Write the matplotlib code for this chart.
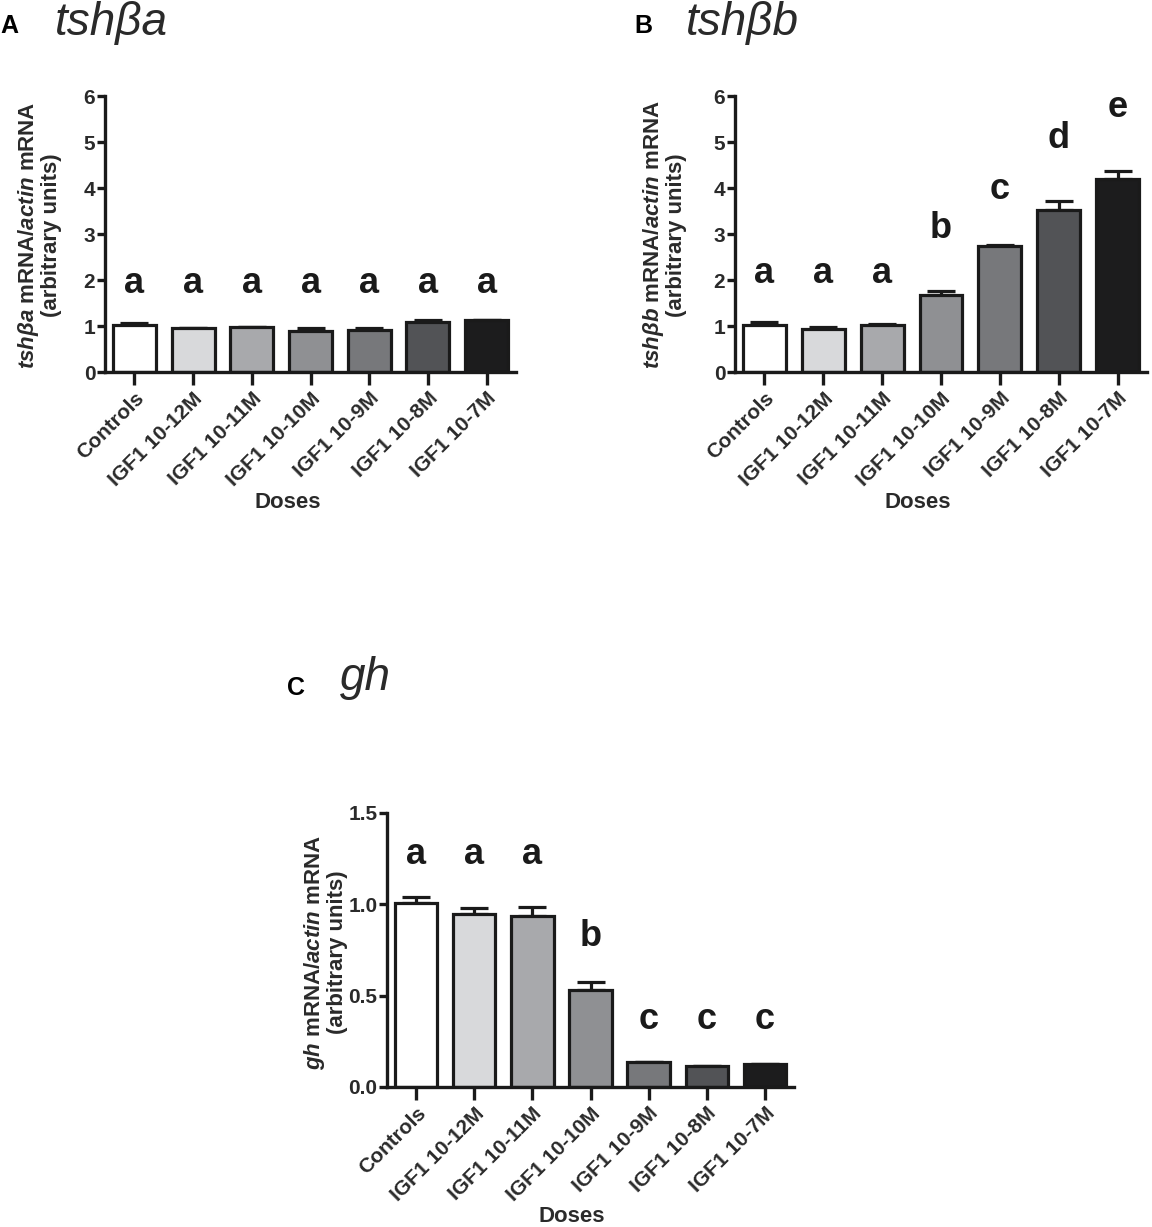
import numpy as np
import matplotlib
matplotlib.use('Agg')
from matplotlib import pyplot as plt

plt.rcParams['font.family'] = ['Liberation Sans', 'DejaVu Sans']
plt.rcParams['mathtext.fontset'] = 'custom'
plt.rcParams['mathtext.it'] = 'Liberation Sans:italic:bold'
plt.rcParams['mathtext.rm'] = 'Liberation Sans:bold'
plt.rcParams['mathtext.bf'] = 'Liberation Sans:bold'

# data
doses = ['Controls', 'IGF1 10-12M', 'IGF1 10-11M', 'IGF1 10-10M',
         'IGF1 10-9M', 'IGF1 10-8M', 'IGF1 10-7M']
bar_colors = ['#ffffff', '#d8d9db', '#a8a9ac', '#8f9093', '#77787b',
              '#525356', '#1c1c1d']

tsha_mean = [1.03, 0.95, 0.97, 0.90, 0.92, 1.09, 1.13]
tsha_sem = [0.03, 0.0, 0.01, 0.05, 0.03, 0.04, 0.0]
tsha_letters = ['a', 'a', 'a', 'a', 'a', 'a', 'a']

tshb_mean = [1.03, 0.94, 1.02, 1.68, 2.75, 3.52, 4.20]
tshb_sem = [0.05, 0.04, 0.02, 0.09, 0.02, 0.20, 0.17]
tshb_letters = ['a', 'a', 'a', 'b', 'c', 'd', 'e']

gh_mean = [1.005, 0.946, 0.935, 0.530, 0.137, 0.113, 0.128]
gh_sem = [0.037, 0.033, 0.048, 0.043, 0.0, 0.0, 0.0]
gh_letters = ['a', 'a', 'a', 'b', 'c', 'c', 'c']

W, H = 1152, 1227
fig = plt.figure(figsize=(W / 100, H / 100), dpi=100)


def px(x, y):
    # pixel position -> figure fraction
    return x / W, 1 - y / H


def panel(rect, mean, sem, letters, letter_y, ylim, yticks, yfmt):
    ax = fig.add_axes(rect)
    x = np.arange(len(mean))
    ax.bar(x, mean, width=0.73, color=bar_colors, edgecolor='#1a1a1a',
           linewidth=2.3, zorder=2)
    ax.errorbar(x, mean, yerr=[np.zeros(len(sem)), sem], fmt='none',
                ecolor='#1a1a1a', elinewidth=2.3, capsize=10, capthick=2.3,
                zorder=1)
    for xi, lab, ly in zip(x, letters, letter_y):
        ax.text(xi, ly, lab, ha='center', va='baseline', fontsize=26,
                fontweight='bold', color='#1a1a1a')
    ax.set_xlim(-0.5, len(mean) - 0.5)
    ax.set_ylim(*ylim)
    ax.set_yticks(yticks)
    ax.set_yticklabels([yfmt.format(v) for v in yticks])
    ax.set_xticks(x)
    ax.set_xticklabels(doses, rotation=45, ha='right', rotation_mode='anchor')
    for s in ['top', 'right']:
        ax.spines[s].set_visible(False)
    for s in ['left', 'bottom']:
        ax.spines[s].set_linewidth(2.4)
        ax.spines[s].set_color('#1a1a1a')
    ax.tick_params(axis='both', width=2.4, color='#1a1a1a', labelsize=15,
                   labelcolor='#2a2a2a')
    ax.tick_params(axis='y', length=6, pad=1)
    ax.tick_params(axis='x', length=9, pad=3)
    for t in ax.get_xticklabels() + ax.get_yticklabels():
        t.set_fontweight('bold')
    return ax


# panel A
l, b = px(105, 372)
panel([l, b, 411 / W, 276 / H], tsha_mean, tsha_sem, tsha_letters,
      [1.72] * 7, (0, 6), [0, 1, 2, 3, 4, 5, 6], '{:g}')
# panel B
l, b = px(735, 372)
panel([l, b, 412 / W, 276 / H], tshb_mean, tshb_sem, tshb_letters,
      [1.93, 1.93, 1.93, 2.91, 3.77, 4.86, 5.54], (0, 6),
      [0, 1, 2, 3, 4, 5, 6], '{:g}')
# panel C
l, b = px(387, 1087)
panel([l, b, 407 / W, 274 / H], gh_mean, gh_sem, gh_letters,
      [1.22, 1.22, 1.22, 0.77, 0.32, 0.32, 0.32], (0, 1.5),
      [0.0, 0.5, 1.0, 1.5], '{:.1f}')

# panel letters and gene titles
for (x, y), s in [((0, 33), 'A'), ((634, 33), 'B'), ((287, 695), 'C')]:
    fig.text(*px(x, y), s, fontsize=18, fontweight='bold', va='baseline',
             ha='left', color='black')
for (x, y), s in [((55, 35), 'tshβa'), ((686, 35), 'tshβb'),
                  ((340, 690), 'gh')]:
    fig.text(*px(x, y), s, fontsize=33, style='italic', va='baseline',
             ha='left', color='#2a2a2a')

# y labels
ylabels = [((39, 235), r'$\mathit{tsh\beta a}$ mRNA/$\mathit{actin}$ mRNA'),
           ((664, 235), r'$\mathit{tsh\beta b}$ mRNA/$\mathit{actin}$ mRNA'),
           ((325, 952), r'$\mathit{gh}$ mRNA/$\mathit{actin}$ mRNA')]
for (x, y), s in ylabels:
    fig.text(*px(x, y), s + '\n(arbitrary units)', rotation=90, fontsize=16,
             fontweight='bold', ha='center', va='center', color='#2a2a2a',
             linespacing=1.05, multialignment='center')

# x labels
for x, y in [(288, 502), (918, 502), (572, 1217)]:
    fig.text(*px(x, y), 'Doses', fontsize=16, fontweight='bold',
             ha='center', va='center', color='#2a2a2a')

fig.savefig('out.png', dpi=100)
